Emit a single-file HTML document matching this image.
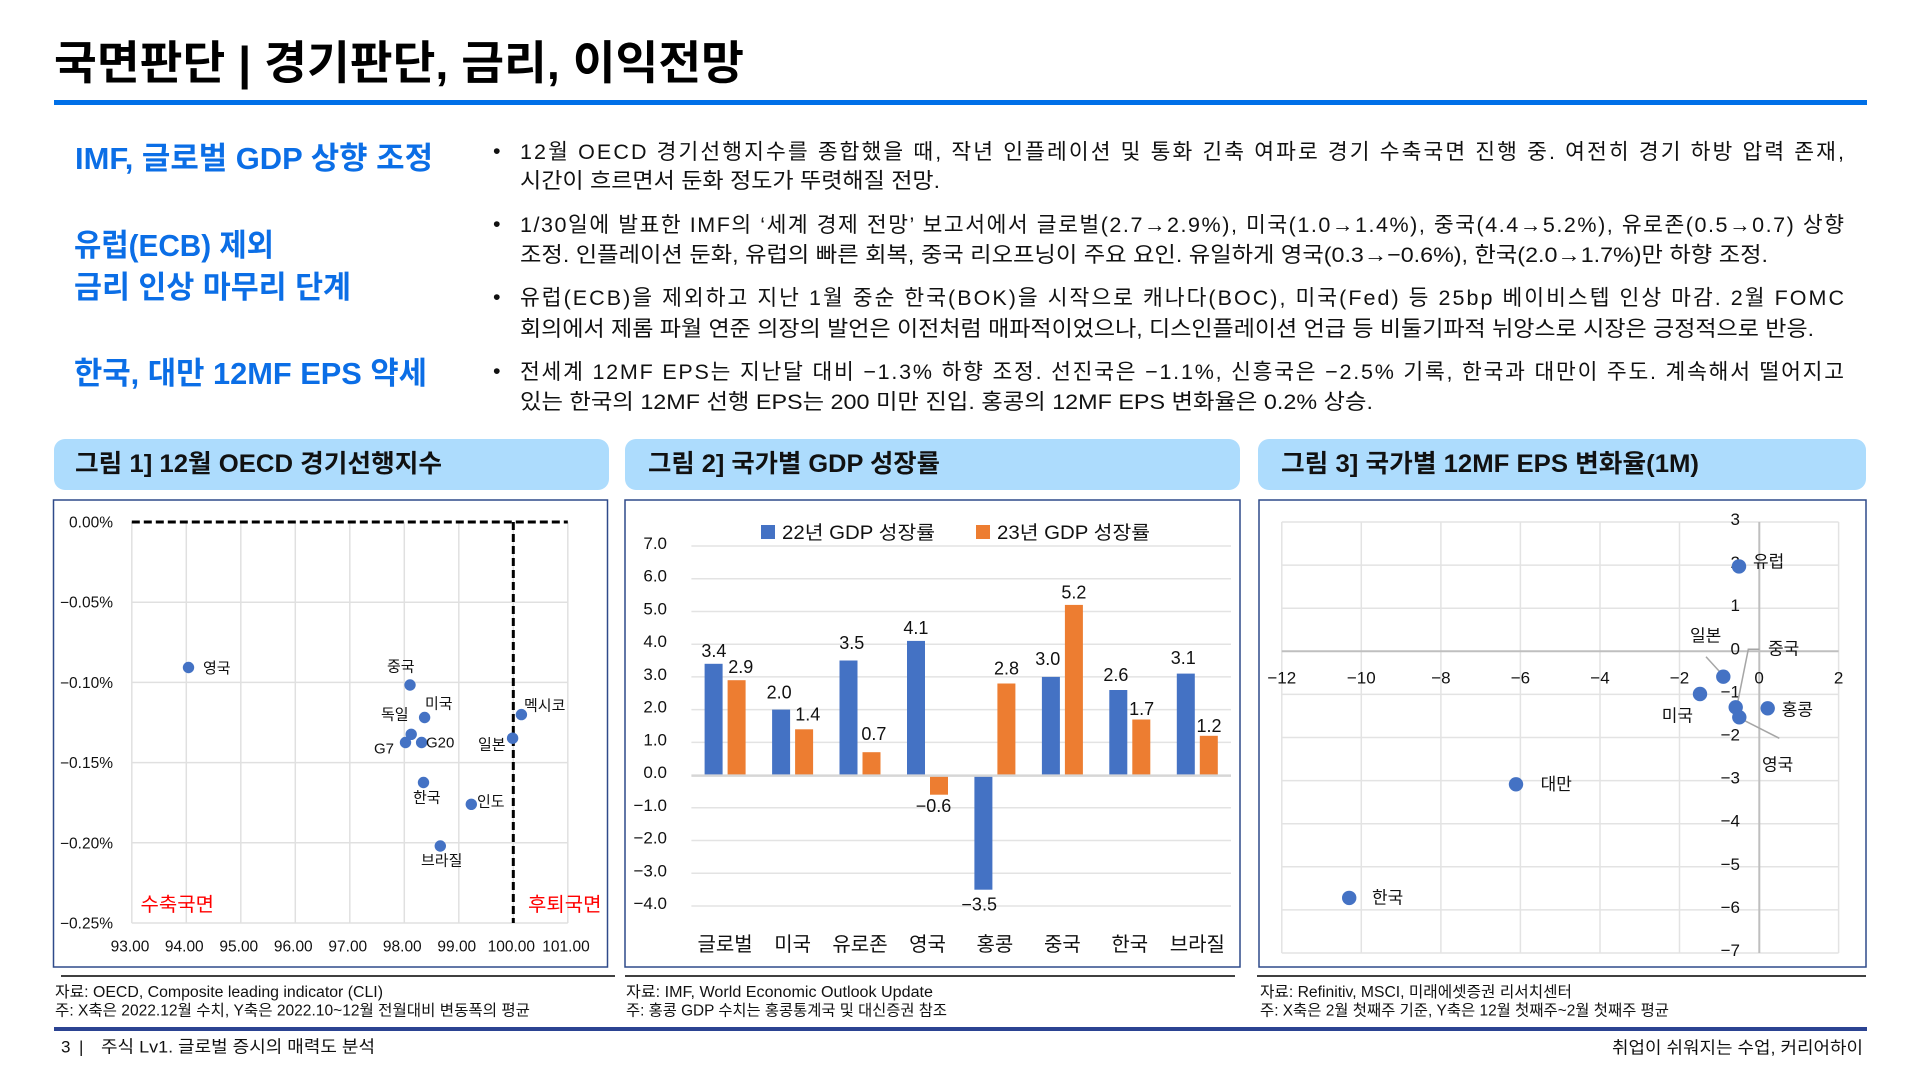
<!DOCTYPE html>
<html lang="ko">
<head>
<meta charset="utf-8">
<style>
  html, body { margin:0; padding:0; background:#ffffff; }
  body { width:1920px; height:1080px; overflow:hidden; }
  svg { display:block; font-family:"Liberation Sans","Noto Sans CJK KR",sans-serif; }
</style>
</head>
<body>
<svg width="1920" height="1080" viewBox="0 0 1920 1080" xmlns="http://www.w3.org/2000/svg">
  <rect x="0" y="0" width="1920" height="1080" fill="#ffffff"/>

  <!-- Title -->
  <text x="54" y="79" font-size="46" font-weight="bold" fill="#000" textLength="690" lengthAdjust="spacingAndGlyphs">국면판단 | 경기판단, 금리, 이익전망</text>
  <rect x="54" y="100" width="1813" height="5" fill="#0070e8"/>

  <!-- Left headings -->
  <g font-size="31" font-weight="bold" fill="#0b6ee6">
    <text x="75" y="169" textLength="358" lengthAdjust="spacingAndGlyphs">IMF, 글로벌 GDP 상향 조정</text>
    <text x="74" y="256" textLength="200" lengthAdjust="spacingAndGlyphs">유럽(ECB) 제외</text>
    <text x="74" y="298" textLength="277" lengthAdjust="spacingAndGlyphs">금리 인상 마무리 단계</text>
    <text x="74" y="384" textLength="353" lengthAdjust="spacingAndGlyphs">한국, 대만 12MF EPS 약세</text>
  </g>

  <!-- Bullets -->
  <g font-size="21.5" fill="#111">
    <text x="493" y="158">•</text>
    <text x="520" y="159" textLength="1324" lengthAdjust="spacing">12월 OECD 경기선행지수를 종합했을 때, 작년 인플레이션 및 통화 긴축 여파로 경기 수축국면 진행 중. 여전히 경기 하방 압력 존재,</text>
    <text x="520" y="188" textLength="420" lengthAdjust="spacingAndGlyphs">시간이 흐르면서 둔화 정도가 뚜렷해질 전망.</text>

    <text x="493" y="231">•</text>
    <text x="520" y="232" textLength="1324" lengthAdjust="spacing">1/30일에 발표한 IMF의 ‘세계 경제 전망’ 보고서에서 글로벌(2.7→2.9%), 미국(1.0→1.4%), 중국(4.4→5.2%), 유로존(0.5→0.7) 상향</text>
    <text x="520" y="262" textLength="1248" lengthAdjust="spacingAndGlyphs">조정. 인플레이션 둔화, 유럽의 빠른 회복, 중국 리오프닝이 주요 요인. 유일하게 영국(0.3→−0.6%), 한국(2.0→1.7%)만 하향 조정.</text>

    <text x="493" y="304">•</text>
    <text x="520" y="305" textLength="1324" lengthAdjust="spacing">유럽(ECB)을 제외하고 지난 1월 중순 한국(BOK)을 시작으로 캐나다(BOC), 미국(Fed) 등 25bp 베이비스텝 인상 마감. 2월 FOMC</text>
    <text x="520" y="336" textLength="1294" lengthAdjust="spacingAndGlyphs">회의에서 제롬 파월 연준 의장의 발언은 이전처럼 매파적이었으나, 디스인플레이션 언급 등 비둘기파적 뉘앙스로 시장은 긍정적으로 반응.</text>

    <text x="493" y="378">•</text>
    <text x="520" y="379" textLength="1324" lengthAdjust="spacing">전세계 12MF EPS는 지난달 대비 −1.3% 하향 조정. 선진국은 −1.1%, 신흥국은 −2.5% 기록, 한국과 대만이 주도. 계속해서 떨어지고</text>
    <text x="520" y="409" textLength="853" lengthAdjust="spacingAndGlyphs">있는 한국의 12MF 선행 EPS는 200 미만 진입. 홍콩의 12MF EPS 변화율은 0.2% 상승.</text>
  </g>

  <!-- Panel headers -->
  <rect x="54" y="439" width="555" height="51" rx="11" ry="11" fill="#addcfd"/>
  <rect x="625" y="439" width="615" height="51" rx="11" ry="11" fill="#addcfd"/>
  <rect x="1258" y="439" width="608" height="51" rx="11" ry="11" fill="#addcfd"/>
  <g font-size="25" font-weight="bold" fill="#111">
    <text x="75" y="472" textLength="367" lengthAdjust="spacingAndGlyphs">그림 1] 12월 OECD 경기선행지수</text>
    <text x="648" y="472" textLength="292" lengthAdjust="spacingAndGlyphs">그림 2] 국가별 GDP 성장률</text>
    <text x="1281" y="472" textLength="418" lengthAdjust="spacingAndGlyphs">그림 3] 국가별 12MF EPS 변화율(1M)</text>
  </g>

  <!-- Chart boxes -->
  <g fill="none" stroke="#2f4a8a" stroke-width="1.5">
    <rect x="53.5" y="500" width="554" height="467"/>
    <rect x="625" y="500" width="615" height="467"/>
    <rect x="1259" y="500" width="607" height="467"/>
  </g>

  <!-- ================= Panel 1 ================= -->
  <g stroke="#e0e0e0" stroke-width="1.5">
    <line x1="131.8" y1="522" x2="131.8" y2="923"/>
    <line x1="186.3" y1="522" x2="186.3" y2="923"/>
    <line x1="240.8" y1="522" x2="240.8" y2="923"/>
    <line x1="295.3" y1="522" x2="295.3" y2="923"/>
    <line x1="349.8" y1="522" x2="349.8" y2="923"/>
    <line x1="404.3" y1="522" x2="404.3" y2="923"/>
    <line x1="458.8" y1="522" x2="458.8" y2="923"/>
    <line x1="513.3" y1="522" x2="513.3" y2="923"/>
    <line x1="567.8" y1="522" x2="567.8" y2="923"/>
    <line x1="131.8" y1="602.2" x2="567.8" y2="602.2"/>
    <line x1="131.8" y1="682.4" x2="567.8" y2="682.4"/>
    <line x1="131.8" y1="762.6" x2="567.8" y2="762.6"/>
    <line x1="131.8" y1="842.8" x2="567.8" y2="842.8"/>
    <line x1="131.8" y1="923" x2="567.8" y2="923"/>
  </g>
  <g stroke="#000" stroke-width="3" stroke-dasharray="8 4">
    <line x1="131.8" y1="522" x2="567.8" y2="522"/>
    <line x1="513.3" y1="522" x2="513.3" y2="923"/>
  </g>
  <g font-size="15.5" fill="#111" text-anchor="end">
    <text x="113" y="527.5">0.00%</text>
    <text x="113" y="607.7">−0.05%</text>
    <text x="113" y="687.9">−0.10%</text>
    <text x="113" y="768.1">−0.15%</text>
    <text x="113" y="848.3">−0.20%</text>
    <text x="113" y="928.5">−0.25%</text>
  </g>
  <g font-size="15.5" fill="#111" text-anchor="middle">
    <text x="130" y="951.5">93.00</text>
    <text x="184.3" y="951.5">94.00</text>
    <text x="238.8" y="951.5">95.00</text>
    <text x="293.3" y="951.5">96.00</text>
    <text x="347.8" y="951.5">97.00</text>
    <text x="402.3" y="951.5">98.00</text>
    <text x="456.8" y="951.5">99.00</text>
    <text x="511.3" y="951.5">100.00</text>
    <text x="566" y="951.5">101.00</text>
  </g>
  <g fill="#4472c4">
    <circle cx="188.5" cy="667.5" r="5.7"/>
    <circle cx="410" cy="685" r="5.7"/>
    <circle cx="424.6" cy="717.5" r="5.7"/>
    <circle cx="411.2" cy="734.3" r="5.7"/>
    <circle cx="405.5" cy="742.5" r="5.7"/>
    <circle cx="421.6" cy="742.5" r="5.7"/>
    <circle cx="512.6" cy="738.2" r="5.7"/>
    <circle cx="521.4" cy="714.6" r="5.7"/>
    <circle cx="423.5" cy="782.5" r="5.7"/>
    <circle cx="471.3" cy="804.3" r="5.7"/>
    <circle cx="440.3" cy="846" r="5.7"/>
  </g>
  <g font-size="15" fill="#111">
    <text x="203" y="673">영국</text>
    <text x="387" y="671.5">중국</text>
    <text x="425" y="708.5">미국</text>
    <text x="381" y="719.5">독일</text>
    <text x="374" y="753.5">G7</text>
    <text x="426" y="747.5">G20</text>
    <text x="478" y="749.5">일본</text>
    <text x="524" y="710.5">멕시코</text>
    <text x="413" y="802.5">한국</text>
    <text x="477" y="806.5">인도</text>
    <text x="421" y="865.5">브라질</text>
  </g>
  <g font-size="19.5" fill="#ff0000">
    <text x="140.5" y="911" textLength="73.5" lengthAdjust="spacingAndGlyphs">수축국면</text>
    <text x="528" y="911" textLength="73.5" lengthAdjust="spacingAndGlyphs">후퇴국면</text>
  </g>

  <!-- ================= Panel 2 ================= -->
  <rect x="761" y="525" width="14" height="14" fill="#4472c4"/>
  <rect x="976" y="525" width="14" height="14" fill="#ed7d31"/>
  <g font-size="19" fill="#111">
    <text x="782" y="539" textLength="153" lengthAdjust="spacingAndGlyphs">22년 GDP 성장률</text>
    <text x="997" y="539" textLength="153" lengthAdjust="spacingAndGlyphs">23년 GDP 성장률</text>
  </g>
  <g stroke="#e3e3e3" stroke-width="1.5">
    <line x1="691.4" y1="546" x2="1231" y2="546"/>
    <line x1="691.4" y1="578.7" x2="1231" y2="578.7"/>
    <line x1="691.4" y1="611.5" x2="1231" y2="611.5"/>
    <line x1="691.4" y1="644.2" x2="1231" y2="644.2"/>
    <line x1="691.4" y1="676.9" x2="1231" y2="676.9"/>
    <line x1="691.4" y1="709.6" x2="1231" y2="709.6"/>
    <line x1="691.4" y1="742.4" x2="1231" y2="742.4"/>
    <line x1="691.4" y1="807.8" x2="1231" y2="807.8"/>
    <line x1="691.4" y1="840.5" x2="1231" y2="840.5"/>
    <line x1="691.4" y1="873.3" x2="1231" y2="873.3"/>
    <line x1="691.4" y1="906" x2="1231" y2="906"/>
  </g>
  <g font-size="17" fill="#111" text-anchor="end">
    <text x="667" y="549">7.0</text>
    <text x="667" y="581.7">6.0</text>
    <text x="667" y="614.5">5.0</text>
    <text x="667" y="647.2">4.0</text>
    <text x="667" y="679.9">3.0</text>
    <text x="667" y="712.6">2.0</text>
    <text x="667" y="745.4">1.0</text>
    <text x="667" y="778.1">0.0</text>
    <text x="667" y="810.8">−1.0</text>
    <text x="667" y="843.5">−2.0</text>
    <text x="667" y="876.3">−3.0</text>
    <text x="667" y="909">−4.0</text>
  </g>
  <g fill="#4472c4">
    <rect x="704.6" y="663.8" width="18" height="111.3"/>
    <rect x="772.1" y="709.6" width="18" height="65.5"/>
    <rect x="839.5" y="660.5" width="18" height="114.6"/>
    <rect x="907" y="640.9" width="18" height="134.2"/>
    <rect x="974.4" y="775.1" width="18" height="114.6"/>
    <rect x="1041.9" y="676.9" width="18" height="98.2"/>
    <rect x="1109.3" y="690" width="18" height="85.1"/>
    <rect x="1176.8" y="673.6" width="18" height="101.5"/>
  </g>
  <g fill="#ed7d31">
    <rect x="727.6" y="680.2" width="18" height="94.9"/>
    <rect x="795.1" y="729.3" width="18" height="45.8"/>
    <rect x="862.5" y="752.2" width="18" height="22.9"/>
    <rect x="930" y="775.1" width="18" height="19.6"/>
    <rect x="997.4" y="683.5" width="18" height="91.6"/>
    <rect x="1064.9" y="604.9" width="18" height="170.2"/>
    <rect x="1132.3" y="719.5" width="18" height="55.6"/>
    <rect x="1199.8" y="735.8" width="18" height="39.3"/>
  </g>
  <line x1="691.4" y1="775.6" x2="1231" y2="775.6" stroke="#d6d6d6" stroke-width="2.5"/>
  <g font-size="18" fill="#111" text-anchor="middle">
    <text x="713.9" y="657.2">3.4</text>
    <text x="740.8" y="672.9">2.9</text>
    <text x="779.2" y="698.3">2.0</text>
    <text x="807.8" y="720.5">1.4</text>
    <text x="851.8" y="649">3.5</text>
    <text x="873.9" y="740.1">0.7</text>
    <text x="915.9" y="634">4.1</text>
    <text x="933.5" y="812.2">−0.6</text>
    <text x="979.2" y="910.5">−3.5</text>
    <text x="1006.5" y="674.7">2.8</text>
    <text x="1047.8" y="665.1">3.0</text>
    <text x="1073.9" y="598.3">5.2</text>
    <text x="1115.9" y="681.1">2.6</text>
    <text x="1141.6" y="715.1">1.7</text>
    <text x="1183.3" y="664">3.1</text>
    <text x="1209" y="732.2">1.2</text>
  </g>
  <g font-size="20" fill="#111" text-anchor="middle">
    <text x="725.1" y="951">글로벌</text>
    <text x="792.6" y="951">미국</text>
    <text x="860" y="951">유로존</text>
    <text x="927.5" y="951">영국</text>
    <text x="994.9" y="951">홍콩</text>
    <text x="1062.4" y="951">중국</text>
    <text x="1129.8" y="951">한국</text>
    <text x="1197.3" y="951">브라질</text>
  </g>

  <!-- ================= Panel 3 ================= -->
  <g stroke="#e3e3e3" stroke-width="1.5">
    <line x1="1281.8" y1="522" x2="1281.8" y2="953"/>
    <line x1="1361.3" y1="522" x2="1361.3" y2="953"/>
    <line x1="1440.9" y1="522" x2="1440.9" y2="953"/>
    <line x1="1520.4" y1="522" x2="1520.4" y2="953"/>
    <line x1="1600" y1="522" x2="1600" y2="953"/>
    <line x1="1679.5" y1="522" x2="1679.5" y2="953"/>
    <line x1="1838.6" y1="522" x2="1838.6" y2="953"/>
    <line x1="1281.8" y1="522" x2="1838.6" y2="522"/>
    <line x1="1281.8" y1="565.1" x2="1838.6" y2="565.1"/>
    <line x1="1281.8" y1="608.2" x2="1838.6" y2="608.2"/>
    <line x1="1281.8" y1="694.4" x2="1838.6" y2="694.4"/>
    <line x1="1281.8" y1="737.5" x2="1838.6" y2="737.5"/>
    <line x1="1281.8" y1="780.6" x2="1838.6" y2="780.6"/>
    <line x1="1281.8" y1="823.7" x2="1838.6" y2="823.7"/>
    <line x1="1281.8" y1="866.8" x2="1838.6" y2="866.8"/>
    <line x1="1281.8" y1="909.9" x2="1838.6" y2="909.9"/>
    <line x1="1281.8" y1="953" x2="1838.6" y2="953"/>
  </g>
  <g stroke="#bfbfbf" stroke-width="2">
    <line x1="1281.8" y1="651.3" x2="1838.6" y2="651.3"/>
    <line x1="1759.3" y1="522" x2="1759.3" y2="953"/>
  </g>
  <g font-size="17" fill="#111" text-anchor="middle">
    <text x="1281.8" y="683.5">−12</text>
    <text x="1361.3" y="683.5">−10</text>
    <text x="1440.9" y="683.5">−8</text>
    <text x="1520.4" y="683.5">−6</text>
    <text x="1600" y="683.5">−4</text>
    <text x="1679.5" y="683.5">−2</text>
    <text x="1759.1" y="683.5">0</text>
    <text x="1838.6" y="683.5">2</text>
  </g>
  <g font-size="17" fill="#111" text-anchor="end">
    <text x="1740" y="525">3</text>
    <text x="1740" y="568.1">2</text>
    <text x="1740" y="611.2">1</text>
    <text x="1740" y="654.3">0</text>
    <text x="1740" y="697.4">−1</text>
    <text x="1740" y="740.5">−2</text>
    <text x="1740" y="783.6">−3</text>
    <text x="1740" y="826.7">−4</text>
    <text x="1740" y="869.8">−5</text>
    <text x="1740" y="912.9">−6</text>
    <text x="1740" y="956">−7</text>
  </g>
  <g stroke="#a6a6a6" stroke-width="1.5" fill="none">
    <polyline points="1706,656.7 1722.7,675"/>
    <polyline points="1759.3,649.3 1748.3,649.3 1736.7,707.3"/>
    <polyline points="1740,718.3 1779.3,738.3"/>
  </g>
  <g fill="#4472c4">
    <circle cx="1739" cy="566.4" r="7.2"/>
    <circle cx="1723.3" cy="676.7" r="7.2"/>
    <circle cx="1700" cy="694" r="7.2"/>
    <circle cx="1735.7" cy="707.3" r="7.2"/>
    <circle cx="1739.3" cy="717.3" r="7.2"/>
    <circle cx="1767.7" cy="708.3" r="7.2"/>
    <circle cx="1516" cy="784.3" r="7.2"/>
    <circle cx="1349.2" cy="897.9" r="7.2"/>
  </g>
  <g font-size="17" fill="#111">
    <text x="1753" y="567.7">유럽</text>
    <text x="1690" y="641.3">일본</text>
    <text x="1768" y="654.6">중국</text>
    <text x="1661.7" y="721.3">미국</text>
    <text x="1781.7" y="715.6">홍콩</text>
    <text x="1762" y="770.3">영국</text>
    <text x="1540.6" y="789.9">대만</text>
    <text x="1372" y="903.3">한국</text>
  </g>

  <!-- Source lines & notes -->
  <g stroke="#000" stroke-width="1.5">
    <line x1="61" y1="976" x2="615" y2="976"/>
    <line x1="625" y1="976" x2="1235" y2="976"/>
    <line x1="1257" y1="976" x2="1866" y2="976"/>
  </g>
  <g font-size="15.5" fill="#111">
    <text x="55" y="997" textLength="328" lengthAdjust="spacingAndGlyphs">자료: OECD, Composite leading indicator (CLI)</text>
    <text x="55" y="1015.5" textLength="475" lengthAdjust="spacingAndGlyphs">주: X축은 2022.12월 수치, Y축은 2022.10~12월 전월대비 변동폭의 평균</text>
    <text x="626" y="997" textLength="307" lengthAdjust="spacingAndGlyphs">자료: IMF, World Economic Outlook Update</text>
    <text x="626" y="1015.5" textLength="321" lengthAdjust="spacingAndGlyphs">주: 홍콩 GDP 수치는 홍콩통계국 및 대신증권 참조</text>
    <text x="1260" y="997" textLength="312" lengthAdjust="spacingAndGlyphs">자료: Refinitiv, MSCI, 미래에셋증권 리서치센터</text>
    <text x="1260" y="1015.5" textLength="409" lengthAdjust="spacingAndGlyphs">주: X축은 2월 첫째주 기준, Y축은 12월 첫째주~2월 첫째주 평균</text>
  </g>

  <!-- Footer -->
  <rect x="54" y="1027" width="1813" height="4" fill="#2b4392"/>
  <g font-size="17" fill="#111">
    <text x="61" y="1052.5">3</text>
    <text x="79" y="1052.5">|</text>
    <text x="101" y="1052.5" textLength="274" lengthAdjust="spacingAndGlyphs">주식 Lv1. 글로벌 증시의 매력도 분석</text>
    <text x="1612" y="1053.5" textLength="251" lengthAdjust="spacingAndGlyphs">취업이 쉬워지는 수업, 커리어하이</text>
  </g>
</svg>
</body>
</html>
